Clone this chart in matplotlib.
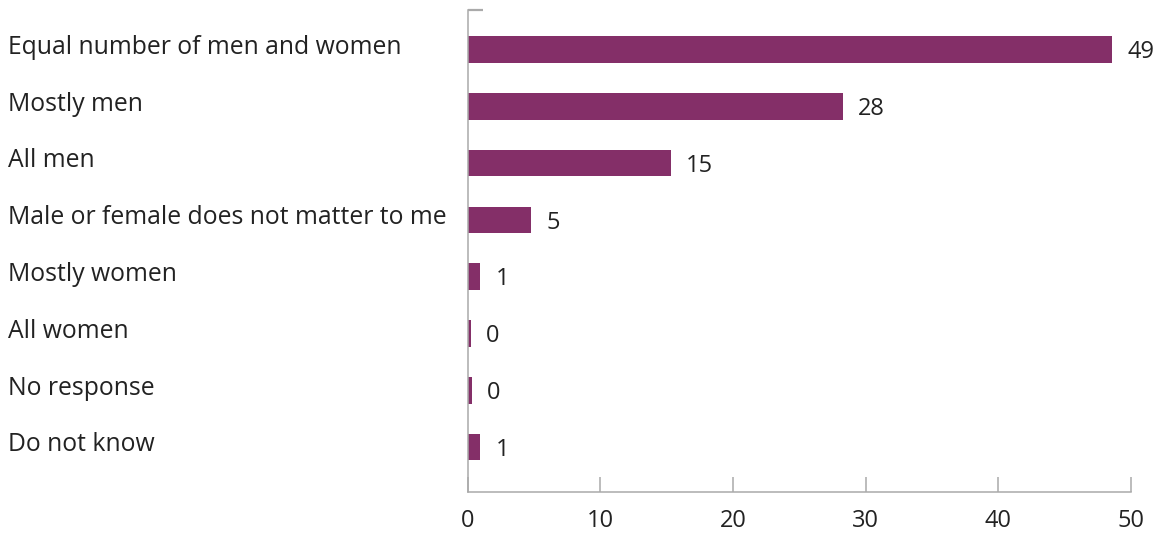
import matplotlib
matplotlib.use("Agg")
import matplotlib.pyplot as plt
from matplotlib.transforms import blended_transform_factory

categories = [
    "Equal number of men and women",
    "Mostly men",
    "All men",
    "Male or female does not matter to me",
    "Mostly women",
    "All women",
    "No response",
    "Do not know",
]
values = [48.6, 28.3, 15.3, 4.8, 0.95, 0.26, 0.33, 0.95]
x_ticks = [0, 10, 20, 30, 40, 50]

BAR = "#842F68"
TEXT = "#222222"
AXIS = "#AAAAAA"
FS = 17
FS_CAT = 17.8

plt.rcParams["font.family"] = ["Open Sans", "DejaVu Sans"]

W, H = 1159, 536
fig = plt.figure(figsize=(W / 100, H / 100), dpi=100)
ax = fig.add_axes([467.5 / W, 1 - 492 / H, (1131 - 467.5) / W, (492 - 10) / H])

pos = list(range(len(categories)))
ax.barh(pos, values, height=0.47, color=BAR)
ax.set_xlim(0, 50)
ax.set_ylim(7.79, -0.695)

for s in ("top", "right"):
    ax.spines[s].set_visible(False)
for s in ("left", "bottom"):
    ax.spines[s].set_color(AXIS)
    ax.spines[s].set_linewidth(1.1)

ax.set_xticks(x_ticks)
ax.set_xticklabels([str(t) for t in x_ticks])
ax.tick_params(axis="x", direction="in", length=11, width=1.1, color=AXIS,
               pad=12, labelsize=FS, labelcolor=TEXT)
# single inward tick capping the top of the category axis
ax.set_yticks([-0.695])
ax.set_yticklabels([""])
ax.tick_params(axis="y", direction="in", length=11, width=1.6, color=AXIS)

lab_tr = blended_transform_factory(fig.transFigure, ax.transData)
for i, (cat, v) in enumerate(zip(categories, values)):
    ax.text(8 / W, i - 0.04, cat, transform=lab_tr, ha="left", va="center",
            fontsize=FS_CAT, color=TEXT)
    ax.annotate(f"{v:.0f}", xy=(v, i), xytext=(11, -2), textcoords="offset points",
                ha="left", va="center", fontsize=FS, color=TEXT)

fig.savefig("out.png", dpi=100)
